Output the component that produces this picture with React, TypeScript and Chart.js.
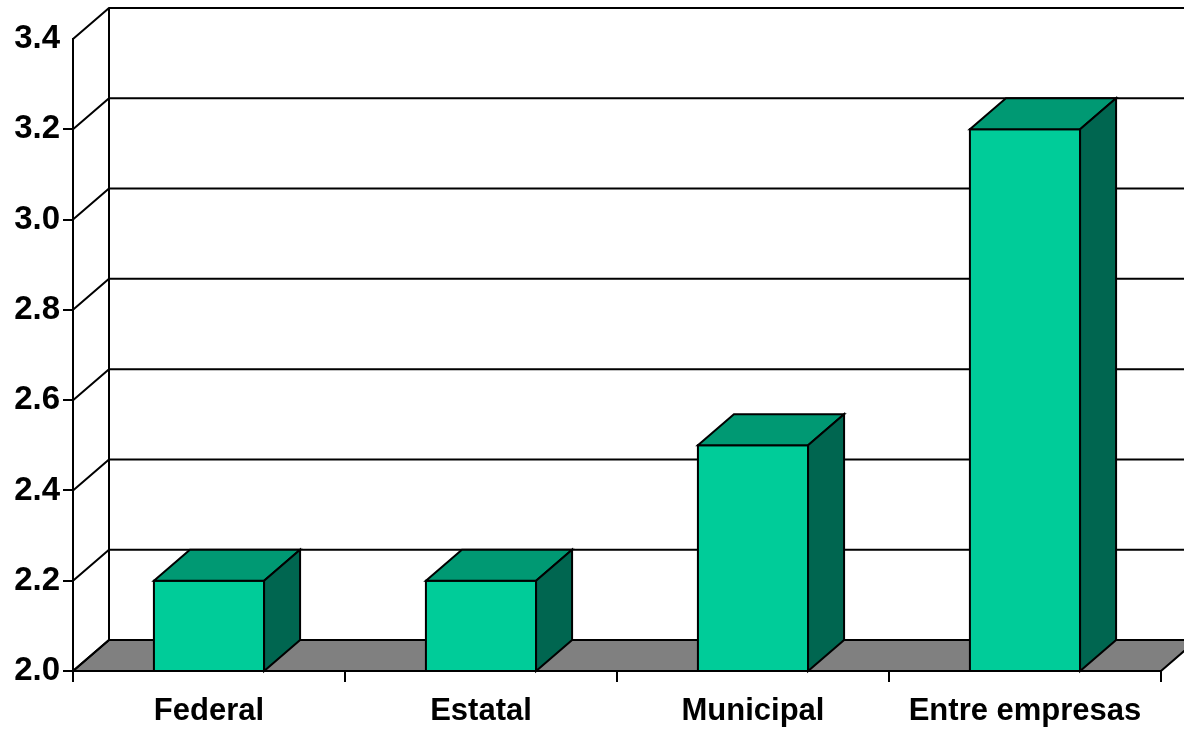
import React, { useEffect, useRef } from "react";
import { Chart, registerables } from "chart.js";
Chart.register(...registerables);

const categories = ["Federal", "Estatal", "Municipal", "Entre empresas"];
const values = [2.2, 2.2, 2.5, 3.2];
const yTicks = [2.0, 2.2, 2.4, 2.6, 2.8, 3.0, 3.2, 3.4];
const yMin = 2.0;
const yMax = 3.4;

const DX = 36;
const DY = -31;
const FRONT = "#00CC99";
const TOP = "#009973";
const SIDE = "#006650";
const FLOOR = "#808080";

function poly(ctx: CanvasRenderingContext2D, pts: number[][], fill: string | null) {
  ctx.beginPath();
  ctx.moveTo(pts[0][0], pts[0][1]);
  for (let i = 1; i < pts.length; i++) ctx.lineTo(pts[i][0], pts[i][1]);
  ctx.closePath();
  if (fill) {
    ctx.fillStyle = fill;
    ctx.fill();
  }
  ctx.stroke();
}

const threeD = {
  id: "threeD",
  beforeDraw(chart: any) {
    const { ctx, chartArea: a, scales } = chart;
    const y = scales.y;
    const yb = y.getPixelForValue(yMin);
    const yt = y.getPixelForValue(yMax);
    ctx.save();
    ctx.fillStyle = "#fff";
    ctx.fillRect(0, 0, chart.width, chart.height);
    ctx.strokeStyle = "#000";
    ctx.lineWidth = 2;
    ctx.lineJoin = "miter";
    poly(ctx, [[a.left, yb], [a.right, yb], [a.right + DX, yb + DY], [a.left + DX, yb + DY]], FLOOR);
    for (const v of yTicks) {
      const p = y.getPixelForValue(v);
      ctx.beginPath();
      ctx.moveTo(a.left, p);
      ctx.lineTo(a.left + DX, p + DY);
      ctx.lineTo(chart.width + 10, p + DY);
      ctx.stroke();
    }
    ctx.beginPath();
    ctx.moveTo(a.left + DX, yt + DY);
    ctx.lineTo(a.left + DX, yb + DY);
    ctx.stroke();
    ctx.restore();
  },
  afterDatasetsDraw(chart: any) {
    const { ctx } = chart;
    const yb = chart.scales.y.getPixelForValue(yMin);
    const meta = chart.getDatasetMeta(0);
    ctx.save();
    ctx.strokeStyle = "#000";
    ctx.lineWidth = 2;
    ctx.lineJoin = "miter";
    meta.data.forEach((bar: any) => {
      const { x, y, width } = bar.getProps(["x", "y", "width"], true);
      const l = x - width / 2;
      const r = x + width / 2;
      poly(ctx, [[l, y], [r, y], [r, yb], [l, yb]], null);
      poly(ctx, [[l, y], [r, y], [r + DX, y + DY], [l + DX, y + DY]], TOP);
      poly(ctx, [[r, y], [r + DX, y + DY], [r + DX, yb + DY], [r, yb]], SIDE);
    });
    ctx.restore();
  },
};

export default function App() {
  const ref = useRef<HTMLCanvasElement | null>(null);
  useEffect(() => {
    document.body.style.margin = "0";
    if (!ref.current) return;
    const family = "'Liberation Sans', Arial, sans-serif";
    const chart = new Chart(ref.current, {
      type: "bar",
      data: {
        labels: categories,
        datasets: [
          {
            data: values,
            backgroundColor: FRONT,
            borderWidth: 0,
            barPercentage: 0.405,
            categoryPercentage: 1,
          },
        ],
      },
      options: {
        responsive: false,
        animation: false,
        devicePixelRatio: 1,
        layout: { padding: { top: 39, right: 23, left: 0, bottom: 0 } },
        plugins: { legend: { display: false }, tooltip: { enabled: false } },
        scales: {
          x: {
            afterFit: (s: any) => {
              s.height = 59;
            },
            grid: {
              display: true,
              drawOnChartArea: false,
              drawTicks: true,
              tickLength: 11,
              color: "#000",
              lineWidth: 2,
              offset: true,
            },
            border: { display: true, color: "#000", width: 2 },
            ticks: {
              color: "#000",
              font: { family, size: 31, weight: "bold" },
              padding: 11,
              maxRotation: 0,
              autoSkip: false,
            },
          },
          y: {
            min: yMin,
            max: yMax,
            afterFit: (s: any) => {
              s.width = 73;
            },
            afterBuildTicks: (s: any) => {
              s.ticks = yTicks.map((v) => ({ value: v }));
            },
            grid: {
              display: true,
              drawOnChartArea: false,
              drawTicks: true,
              tickLength: 10,
              lineWidth: 2,
              color: "#000",
              tickColor: (c: any) =>
                c.tick && Math.abs(c.tick.value - yMax) < 1e-6 ? "rgba(0,0,0,0)" : "#000",
            },
            border: { display: true, color: "#000", width: 2 },
            ticks: {
              color: "#000",
              font: { family, size: 33, weight: "bold" },
              padding: 3,
              callback: (v: any) => Number(v).toFixed(1),
            },
          },
        },
      },
      plugins: [threeD],
    });
    return () => chart.destroy();
  }, []);
  return (
    <div style={{ position: "absolute", left: 0, top: 0, width: 1184, height: 730 }}>
      <canvas ref={ref} width={1184} height={730} />
    </div>
  );
}
